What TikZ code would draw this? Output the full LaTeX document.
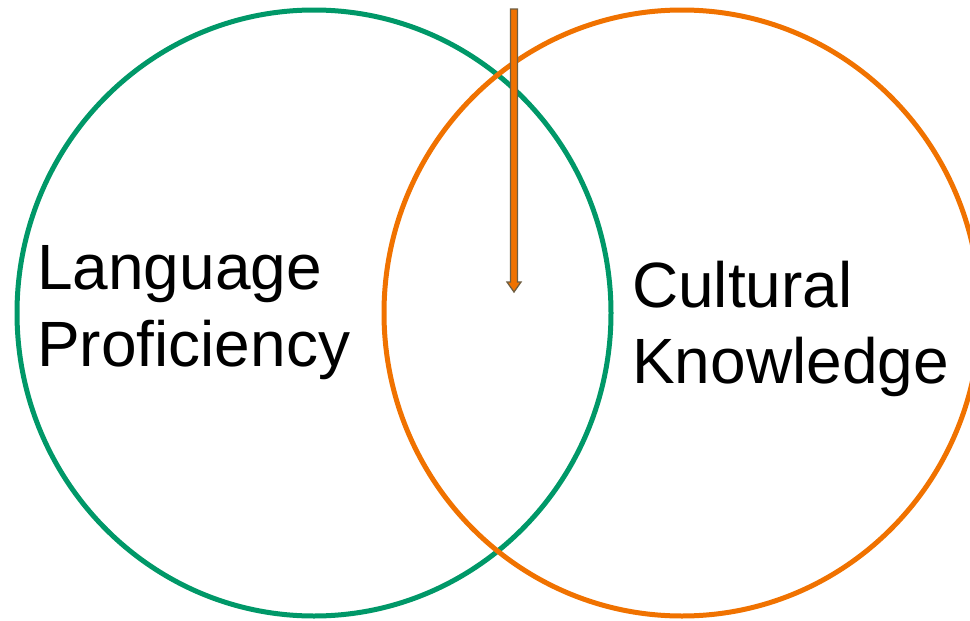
\documentclass[tikz,border=0pt]{standalone}
\usepackage{fontspec}
\setmainfont{Liberation Sans}
\usetikzlibrary{shapes.geometric, calc}

\definecolor{lpgreen}{RGB}{0,152,104}
\definecolor{ckorange}{RGB}{240,114,0}
\definecolor{arrowrim}{RGB}{110,94,66}

\begin{document}
\begin{tikzpicture}[
      x=1pt, y=-1pt,
   ring/.style = {ellipse, draw, line width=5pt, inner sep=0pt,
                  minimum width=594pt, minimum height=606pt},
  label/.style = {anchor=base west, inner sep=0pt,
                  font=\fontsize{64}{76}\selectfont}
                    ]
\useasboundingbox (0,0) rectangle (970,621);
\begin{scope}
\clip (0,0) rectangle (970,621);
% the two sets
\node (lang) [ring, draw=lpgreen] at (314,313) {};
\node (cult) [ring, draw=ckorange, minimum width=596pt] at (682,313) {};
% pointer into the overlap
\coordinate (top) at (514,9);
\coordinate (tip) at (514,292);
\filldraw[fill=ckorange, draw=arrowrim, line width=1.3pt, line join=miter]
  ($(top)+(-3.5,0)$) -- ($(top)+(3.5,0)$) -- ($(tip)+(3.5,-10)$)
  -- ($(tip)+(7,-10)$) -- (tip) -- ($(tip)+(-7,-10)$)
  -- ($(tip)+(-3.5,-10)$) -- cycle;
\end{scope}
\node (language)    [label] at (37,289)  {Language};
\node (proficiency) [label] at (37,366)  {Proficiency};
\node (cultural)    [label] at (632,307) {Cultural};
\node (knowledge)   [label] at (632,383) {Knowledge};
\end{tikzpicture}
\end{document}
